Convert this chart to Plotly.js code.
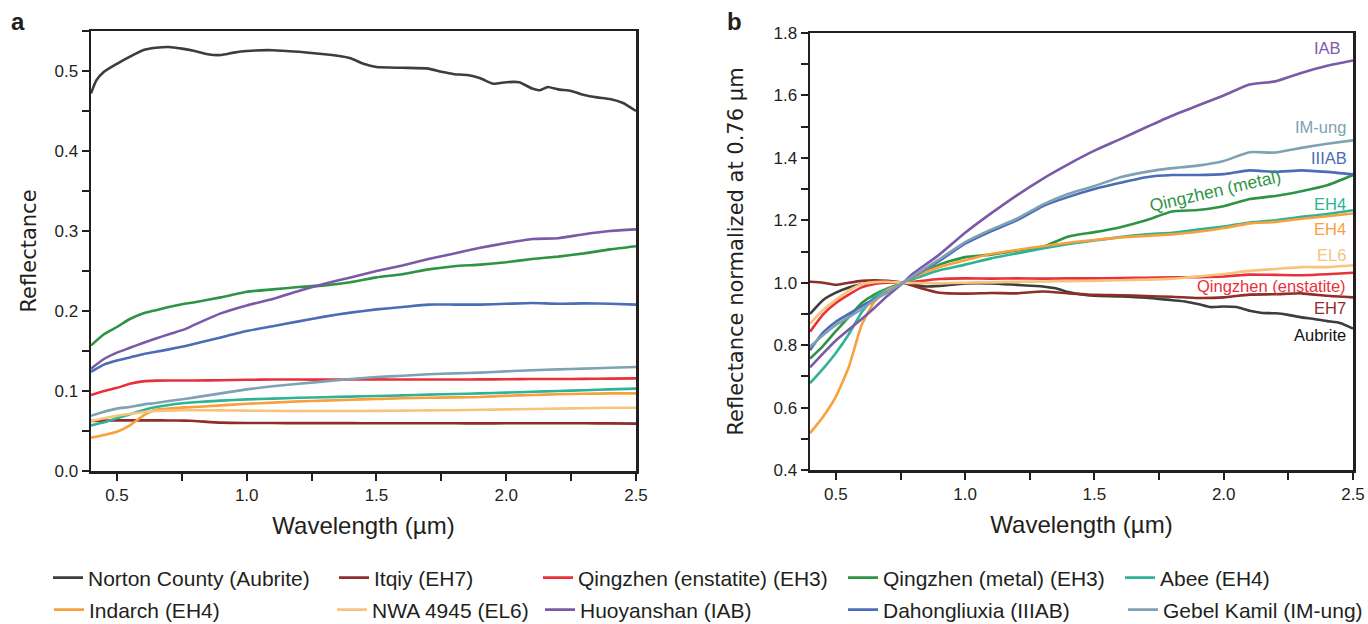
<!DOCTYPE html>
<html>
<head>
<meta charset="utf-8">
<script src="https://cdn.plot.ly/plotly-3.0.1.min.js"></script>
<style>html,body{margin:0;padding:0;background:#fff;}#chart{width:1368px;height:624px;}</style>
</head>
<body>
<div id="chart"></div>
<script>
// ---------- DATA ----------
const seriesNames = ["Norton County (Aubrite)","Itqiy (EH7)","Qingzhen (enstatite) (EH3)","Qingzhen (metal) (EH3)","Abee (EH4)",
  "Indarch (EH4)","NWA 4945 (EL6)","Huoyanshan (IAB)","Dahongliuxia (IIIAB)","Gebel Kamil (IM-ung)"];
const seriesColors = ["#3d3d3d","#8e2e2b","#e8313a","#2e9444","#2eb397","#f8a03c","#f8c47c","#7a5aa8","#4b6cb7","#7ea2b3"];

// common wavelength grid (µm)
const wl = [0.40,0.45,0.50,0.55,0.60,0.65,0.70,0.76,0.80,0.90,1.00,1.10,1.20,1.30,1.40,1.50,1.60,1.70,1.80,1.90,2.00,2.10,2.20,2.30,2.40,2.50];

// Panel a: reflectance
const nortonWl = [0.40,0.42,0.45,0.50,0.55,0.60,0.65,0.70,0.75,0.80,0.85,0.90,0.95,1.00,1.10,1.20,1.30,1.35,1.40,1.45,1.50,1.60,1.70,1.75,1.80,1.85,1.90,1.95,2.00,2.05,2.10,2.13,2.16,2.20,2.25,2.30,2.35,2.40,2.45,2.50];
const nortonR  = [0.472,0.488,0.499,0.509,0.518,0.526,0.529,0.530,0.528,0.525,0.521,0.520,0.523,0.525,0.526,0.524,0.521,0.519,0.516,0.509,0.505,0.504,0.503,0.499,0.496,0.495,0.491,0.484,0.486,0.486,0.478,0.476,0.480,0.477,0.475,0.470,0.467,0.465,0.460,0.450];
const itqiyR   = [0.0625,0.063,0.0633,0.0633,0.0633,0.0633,0.0632,0.063,0.0625,0.0605,0.0600,0.0600,0.0598,0.0598,0.0598,0.0597,0.0597,0.0597,0.0596,0.0595,0.0596,0.0597,0.0596,0.0596,0.0595,0.0592];
const qzEnR    = [0.095,0.100,0.104,0.109,0.112,0.113,0.1132,0.1132,0.1132,0.1135,0.114,0.1143,0.1143,0.1142,0.1143,0.1145,0.1143,0.1143,0.1143,0.1145,0.1146,0.115,0.115,0.1152,0.1155,0.1158];
const qzMeR    = [0.157,0.171,0.180,0.190,0.197,0.201,0.205,0.209,0.211,0.217,0.224,0.227,0.230,0.232,0.236,0.242,0.246,0.252,0.256,0.258,0.261,0.265,0.268,0.272,0.277,0.281];
const abeeR    = [0.057,0.061,0.066,0.071,0.076,0.080,0.0825,0.085,0.086,0.088,0.0895,0.0905,0.0915,0.0922,0.093,0.0937,0.0945,0.0955,0.0962,0.097,0.098,0.099,0.100,0.101,0.102,0.103];
const indarchR = [0.0417,0.045,0.049,0.057,0.069,0.0765,0.078,0.0795,0.080,0.082,0.084,0.0855,0.087,0.088,0.089,0.090,0.091,0.0915,0.092,0.0925,0.094,0.095,0.096,0.0965,0.097,0.097];
const nwaR     = [0.0625,0.066,0.069,0.0715,0.0735,0.075,0.0755,0.076,0.076,0.0758,0.0755,0.0752,0.075,0.075,0.075,0.0752,0.0755,0.0758,0.076,0.0765,0.077,0.0775,0.078,0.0785,0.079,0.079];
const huoyR    = [0.128,0.140,0.148,0.154,0.160,0.1655,0.171,0.177,0.183,0.197,0.207,0.215,0.225,0.234,0.242,0.250,0.257,0.265,0.272,0.279,0.285,0.290,0.291,0.296,0.300,0.302];
const dahongR  = [0.124,0.133,0.138,0.142,0.146,0.149,0.152,0.156,0.159,0.167,0.175,0.181,0.187,0.193,0.198,0.202,0.205,0.208,0.208,0.208,0.209,0.210,0.209,0.2095,0.209,0.208];
const gebelR   = [0.069,0.074,0.078,0.080,0.083,0.085,0.0875,0.090,0.092,0.097,0.102,0.106,0.109,0.112,0.115,0.1175,0.119,0.121,0.122,0.123,0.1245,0.126,0.127,0.128,0.129,0.130];

// Panel b: reflectance normalized at 0.76 µm
const aubriteWl = [0.40,0.45,0.50,0.55,0.60,0.65,0.70,0.76,0.80,0.85,0.90,1.00,1.10,1.20,1.30,1.35,1.40,1.45,1.50,1.60,1.70,1.80,1.85,1.90,1.95,2.00,2.05,2.10,2.15,2.20,2.25,2.30,2.35,2.40,2.45,2.50];
const aubriteN  = [0.900,0.944,0.968,0.985,0.995,1.000,1.001,1.000,0.993,0.988,0.990,0.998,0.998,0.993,0.988,0.982,0.970,0.962,0.958,0.956,0.952,0.944,0.940,0.932,0.922,0.924,0.922,0.910,0.903,0.902,0.897,0.889,0.884,0.877,0.871,0.853];
const eh7N     = [1.003,1.000,0.993,1.000,1.006,1.008,1.006,1.000,0.990,0.968,0.965,0.967,0.966,0.972,0.966,0.961,0.960,0.957,0.955,0.951,0.953,0.962,0.963,0.966,0.958,0.953];
const qzEnN    = [0.843,0.898,0.935,0.962,0.985,0.996,1.000,1.000,1.003,1.012,1.014,1.013,1.014,1.013,1.014,1.014,1.015,1.016,1.017,1.018,1.020,1.026,1.025,1.024,1.027,1.032];
const qzMeN    = [0.757,0.797,0.845,0.890,0.935,0.963,0.982,1.000,1.015,1.058,1.082,1.090,1.103,1.115,1.148,1.162,1.178,1.200,1.228,1.233,1.245,1.268,1.278,1.293,1.312,1.345];
const abeeN    = [0.678,0.724,0.775,0.835,0.905,0.955,0.980,1.000,1.012,1.040,1.058,1.078,1.094,1.110,1.124,1.135,1.146,1.155,1.160,1.170,1.180,1.193,1.200,1.211,1.220,1.232];
const indarchN = [0.518,0.570,0.635,0.730,0.865,0.940,0.975,1.000,1.018,1.050,1.072,1.092,1.105,1.117,1.128,1.137,1.145,1.150,1.155,1.163,1.175,1.190,1.195,1.205,1.213,1.222];
const nwaN     = [0.869,0.912,0.945,0.975,0.995,1.002,1.003,1.000,0.999,0.998,1.000,1.001,1.003,1.004,1.005,1.006,1.008,1.010,1.013,1.020,1.028,1.038,1.044,1.050,1.050,1.056];
const iabN     = [0.729,0.773,0.815,0.850,0.884,0.920,0.958,1.000,1.030,1.090,1.160,1.222,1.280,1.333,1.380,1.423,1.460,1.498,1.535,1.568,1.600,1.635,1.645,1.672,1.695,1.712];
const iiiabN   = [0.784,0.840,0.875,0.900,0.925,0.948,0.970,1.000,1.020,1.070,1.125,1.165,1.200,1.245,1.275,1.300,1.320,1.338,1.345,1.345,1.348,1.360,1.355,1.360,1.355,1.347];
const imungN   = [0.795,0.832,0.865,0.890,0.915,0.945,0.970,1.000,1.022,1.075,1.130,1.170,1.205,1.250,1.285,1.310,1.338,1.355,1.367,1.375,1.390,1.418,1.417,1.432,1.445,1.456];

// Panel b curve labels
const labelTexts = ["IAB","IM-ung","IIIAB","Qingzhen (metal)","EH4","EH4","EL6","Qingzhen (enstatite)","EH7","Aubrite"];
const labelX = [2.46,2.48,2.485,1.965,2.48,2.48,2.48,2.48,2.48,2.48];
const labelY = [1.752,1.50,1.40,1.295,1.252,1.173,1.089,0.988,0.918,0.834];
const labelColorIdx = [7,9,8,3,4,5,6,2,1,0];

// ---------- BUILD ----------
const W = 1368, H = 624;
const aX = [nortonWl, wl, wl, wl, wl, wl, wl, wl, wl, wl];
const aY = [nortonR, itqiyR, qzEnR, qzMeR, abeeR, indarchR, nwaR, huoyR, dahongR, gebelR];
const bX = [aubriteWl, wl, wl, wl, wl, wl, wl, wl, wl, wl];
const bY = [aubriteN, eh7N, qzEnN, qzMeN, abeeN, indarchN, nwaN, iabN, iiiabN, imungN];

const traces = [];
const legendPos = [[48,578],[334,578],[538,578],[843,578],[1120,578],[49,610],[332,610],[540,610],[843,610],[1123,610]];
for (let i = 0; i < 10; i++) {
  const lg = i === 0 ? 'legend' : 'legend' + (i + 1);
  traces.push({type:'scatter', mode:'lines', x:aX[i], y:aY[i], name:seriesNames[i], xaxis:'x', yaxis:'y',
    line:{color:seriesColors[i], width:2.6, shape:'spline', smoothing:0.5}, legend:lg, hoverinfo:'x+y+name'});
}
for (let i = 0; i < 10; i++) {
  traces.push({type:'scatter', mode:'lines', x:bX[i], y:bY[i], name:seriesNames[i], xaxis:'x2', yaxis:'y2',
    line:{color:seriesColors[i], width:2.6, shape:'spline', smoothing:0.5}, showlegend:false, hoverinfo:'x+y+name'});
}

const ink = '#231f20';
const tickFont = {family:'Liberation Sans, Arial, sans-serif', size:17, color:ink};
function axis(extra) {
  return Object.assign({showline:true, linecolor:ink, linewidth:2.5, mirror:true, ticks:'outside', ticklen:7,
    tickwidth:2, tickcolor:ink, showgrid:false, zeroline:false, tickfont:tickFont, fixedrange:true, automargin:false}, extra);
}
const xTitle = {text:'Wavelength (µm)', font:{family:'Liberation Sans, Arial, sans-serif', size:24, color:ink}, standoff:14};

const layout = {
  width:W, height:H, margin:{l:0, r:0, t:0, b:0, autoexpand:false}, paper_bgcolor:'#fff', plot_bgcolor:'#fff',
  font:{family:'Liberation Sans, Arial, sans-serif', color:ink},
  xaxis: axis({domain:[91/W, 636/W], range:[0.4,2.5], tickmode:'linear', tick0:0.5, dtick:0.5, tickformat:'.1f',
    minor:{tick0:0.25, dtick:0.25, ticks:'outside', ticklen:7, tickwidth:2, tickcolor:ink}, title:xTitle, anchor:'y'}),
  yaxis: axis({domain:[1-471/H, 1-31/H], range:[0,0.55], tickmode:'linear', tick0:0, dtick:0.1, tickformat:'.1f',
    minor:{tick0:0, dtick:0.05, ticks:'outside', ticklen:7, tickwidth:2, tickcolor:ink},
    title:{text:'Reflectance', font:{family:'DejaVu Sans, sans-serif', size:21, color:ink}, standoff:12}, anchor:'x'}),
  xaxis2: axis({domain:[810/W, 1353/W], range:[0.4,2.5], tickmode:'linear', tick0:0.5, dtick:0.5, tickformat:'.1f',
    minor:{tick0:0.25, dtick:0.25, ticks:'outside', ticklen:7, tickwidth:2, tickcolor:ink}, title:xTitle, anchor:'y2'}),
  yaxis2: axis({domain:[1-470/H, 1-33/H], range:[0.4,1.8], tickmode:'linear', tick0:0.4, dtick:0.2, tickformat:'.1f',
    minor:{tick0:0.4, dtick:0.1, ticks:'outside', ticklen:7, tickwidth:2, tickcolor:ink},
    title:{text:'Reflectance normalized at 0.76 µm', font:{family:'DejaVu Sans, sans-serif', size:21, color:ink}, standoff:24}, anchor:'x2'}),
  annotations: [
    {text:'<b>a</b>', xref:'paper', yref:'paper', x:18/W, y:1-22/H, xanchor:'center', yanchor:'middle', showarrow:false,
     font:{family:'Liberation Sans, Arial, sans-serif', size:24, color:ink}},
    {text:'<b>b</b>', xref:'paper', yref:'paper', x:734/W, y:1-22/H, xanchor:'center', yanchor:'middle', showarrow:false,
     font:{family:'Liberation Sans, Arial, sans-serif', size:24, color:ink}}
  ],
  showlegend:true
};

for (let k = 0; k < labelTexts.length; k++) {
  const rot = labelTexts[k] === 'Qingzhen (metal)';
  layout.annotations.push({text:labelTexts[k], xref:'x2', yref:'y2', x:labelX[k], y:labelY[k],
    xanchor: rot ? 'center' : 'right', yanchor:'middle', showarrow:false, textangle: rot ? -13 : 0,
    font:{family:'Liberation Sans, Arial, sans-serif', size: rot ? 17.5 : 16.5,
      color: labelColorIdx[k] === 0 ? '#111' : seriesColors[labelColorIdx[k]]}});
}

for (let i = 0; i < 10; i++) {
  const key = i === 0 ? 'legend' : 'legend' + (i + 1);
  layout[key] = {x:legendPos[i][0]/W, y:1-legendPos[i][1]/H, xanchor:'left', yanchor:'middle', orientation:'v',
    bgcolor:'rgba(0,0,0,0)', borderwidth:0, itemwidth:30, tracegroupgap:0,
    font:{family:'Liberation Sans, Arial, sans-serif', size:21, color:ink}};
}

Plotly.newPlot('chart', traces, layout, {displayModeBar:false, staticPlot:true});
</script>
</body>
</html>
